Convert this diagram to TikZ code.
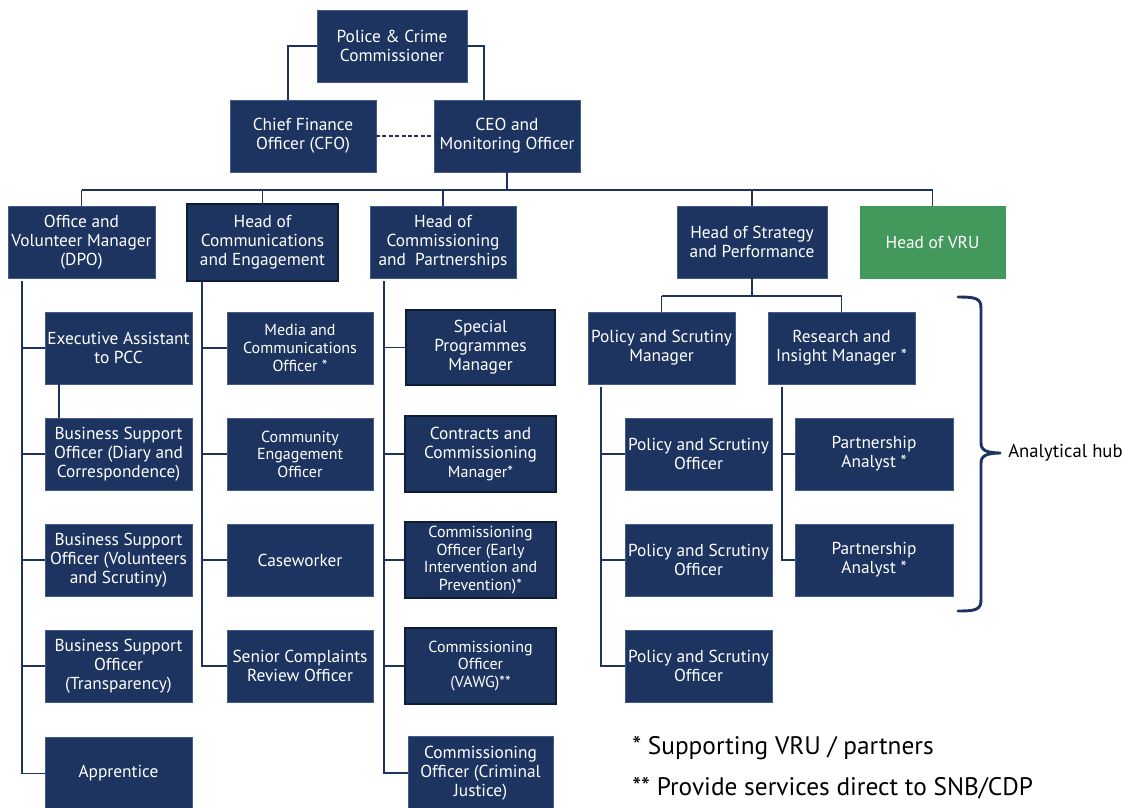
\documentclass[tikz,border=0pt]{standalone}
\usepackage{fontspec}
\setmainfont{PT Sans}
\usetikzlibrary{calc}
\definecolor{navy}{RGB}{29,52,96}
\definecolor{navyedge}{RGB}{66,92,138}
\definecolor{navydark}{RGB}{14,28,54}
\definecolor{vrugreen}{RGB}{67,152,92}
\tikzset{
  box/.style={fill=navy, draw=navyedge, line width=0.6pt, text=white, align=center,
    inner sep=0pt, outer sep=0pt, font=\fontsize{13}{14.3}\selectfont},
  smalltxt/.style={font=\fontsize{12}{13.2}\selectfont},
  darkedge/.style={draw=navydark, line width=1.3pt},
  greenbox/.style={fill=vrugreen, draw=vrugreen},
  conn/.style={draw=navy, line width=1.4pt},
  note/.style={anchor=west, text=black, inner sep=0pt},
}
\newcommand\obox[7][]{\node[box,minimum width={(#5-#3)*0.75pt},minimum height={(#6-#4)*0.75pt},#1] (#2) at ({(#3+#5)/2},{(#4+#6)/2}) {#7};}
\begin{document}
\begin{tikzpicture}[x=0.75pt,y=-0.75pt]
\useasboundingbox (0,0) rectangle (1131,807);

% --- top
\obox{pcc}{317}{10}{467}{82}{Police \& Crime\\Commissioner}
\obox{cfo}{230}{100}{376}{172}{Chief Finance\\Officer (CFO)}
\obox{ceo}{434}{100}{580}{172}{CEO and\\Monitoring Officer}

% --- heads
\obox{ovm}{8}{206}{155}{278}{Office and\\Volunteer Manager\\(DPO)}
\obox[darkedge]{hce}{187}{204}{338}{281}{Head of\\Communications\\and Engagement}
\obox{hcp}{370}{206}{516}{278}{Head of\\Commissioning\\and\ \ Partnerships}
\obox{hsp}{677}{206}{827}{278}{Head of Strategy\\and Performance}
\obox[greenbox]{vru}{860}{206}{1005}{278}{Head of VRU}

% --- office column
\obox{exa}{45}{312}{192}{384}{Executive Assistant\\to PCC}
\obox{bsd}{45}{418}{192}{490}{Business Support\\Officer (Diary and\\Correspondence)}
\obox{bsv}{45}{524}{192}{596}{Business Support\\Officer (Volunteers\\and Scrutiny)}
\obox{bst}{45}{630}{192}{702}{Business Support\\Officer\\(Transparency)}
\obox{app}{45}{737}{192}{810}{Apprentice}

% --- communications column
\obox[smalltxt]{mco}{227}{312}{373}{384}{Media and\\Communications\\Officer *}
\obox[smalltxt]{ceng}{227}{418}{373}{490}{Community\\Engagement\\Officer}
\obox{cw}{227}{524}{373}{596}{Caseworker}
\obox{scr}{227}{630}{373}{702}{Senior Complaints\\Review Officer}

% --- commissioning column
\obox[darkedge]{spm}{406}{310}{555}{385}{Special\\Programmes\\Manager}
\obox[darkedge]{ccm}{405}{416}{556}{492}{Contracts and\\Commissioning\\{\fontsize{12}{13.2}\selectfont Manager*}}
\obox[darkedge,smalltxt]{coe}{405}{522}{556}{598}{Commissioning\\Officer (Early\\Intervention and\\Prevention)*}
\obox[darkedge,smalltxt]{cov}{405}{628}{556}{704}{Commissioning\\Officer\\(VAWG)**}
\obox{coc}{408}{736}{553}{810}{Commissioning\\Officer (Criminal\\Justice)}

% --- strategy
\obox{psm}{588}{312}{735}{384}{Policy and Scrutiny\\Manager}
\obox{rim}{768}{312}{915}{384}{Research and\\Insight Manager *}
\obox{pso1}{625}{418}{772}{490}{Policy and Scrutiny\\Officer}
\obox{pso2}{625}{524}{772}{596}{Policy and Scrutiny\\Officer}
\obox{pso3}{625}{630}{772}{702}{Policy and Scrutiny\\Officer}
\obox{pa1}{795}{418}{953}{490}{Partnership\\Analyst *}
\obox{pa2}{795}{524}{953}{596}{Partnership\\Analyst *}

% --- connectors top
\draw[conn] (pcc.west) -| ($(cfo.north)+(-15,0)$);
\draw[conn] (pcc.east) -| ($(ceo.north)+(-23,0)$);
\draw[conn, line width=0.9pt, dash pattern=on 3pt off 1.8pt] (cfo.east) -- (ceo.west);
\coordinate (bus) at (507,190);
\draw[conn] (ceo.south) -- (bus);
\draw[conn] (ovm.north |- bus) -- (vru.north |- bus);
\foreach \n in {ovm,hce,hcp,hsp,vru} \draw[conn] (\n.north |- bus) -- (\n.north);

% office column
\coordinate (lc) at ($(ovm.south west)+(14,3)$);
\foreach \n in {exa,bsd,bsv,bst} \draw[conn] (lc |- \n.west) -- (\n.west);
\draw[conn] (lc) |- (app.west);
\draw[conn] ($(exa.south west)+(14,0)$) -- ($(bsd.north west)+(14,0)$);

% communications column
\coordinate (cc) at ($(hce.south west)+(15,0)$);
\foreach \n in {mco,ceng,cw} \draw[conn] (cc |- \n.west) -- (\n.west);
\draw[conn] (cc) |- (scr.west);

% commissioning column
\coordinate (mc) at ($(hcp.south west)+(14,3)$);
\foreach \n in {spm,ccm,coe,cov} \draw[conn] (mc |- \n.west) -- (\n.west);
\draw[conn] (mc) |- (coc.west);

% strategy
\coordinate (sbus) at ($(hsp.south)+(0,18)$);
\draw[conn] (hsp.south) -- (sbus);
\draw[conn] (psm.north |- sbus) -- (rim.north |- sbus);
\foreach \n in {psm,rim} \draw[conn] (\n.north |- sbus) -- (\n.north);
\coordinate (pc) at ($(psm.south west)+(13,3)$);
\foreach \n in {pso1,pso2} \draw[conn] (pc |- \n.west) -- (\n.west);
\draw[conn] (pc) |- (pso3.west);
\coordinate (rc) at ($(rim.south west)+(14,3)$);
\draw[conn] (rc |- pa1.west) -- (pa1.west);
\draw[conn] (rc) |- (pa2.west);

% --- brace and labels
\node[note, font=\fontsize{14}{16}\selectfont] (hub) at (1008,453) {Analytical hub};
\draw[navy, line width=2.2pt, line cap=round]
  (958,297) .. controls (975,297) and (981,298) .. (981,308) -- (981,443)
  .. controls (981,450) and (986,453) .. (1001,453)
  .. controls (986,453) and (981,456) .. (981,463) -- (981,600)
  .. controls (981,610) and (975,611) .. (958,611);

\node[note, font=\fontsize{19}{22}\selectfont] (fn1) at (632,748) {* Supporting VRU / partners};
\node[note, font=\fontsize{19}{22}\selectfont] (fn2) at (632,788) {** Provide services direct to SNB/CDP};
\end{tikzpicture}
\end{document}
